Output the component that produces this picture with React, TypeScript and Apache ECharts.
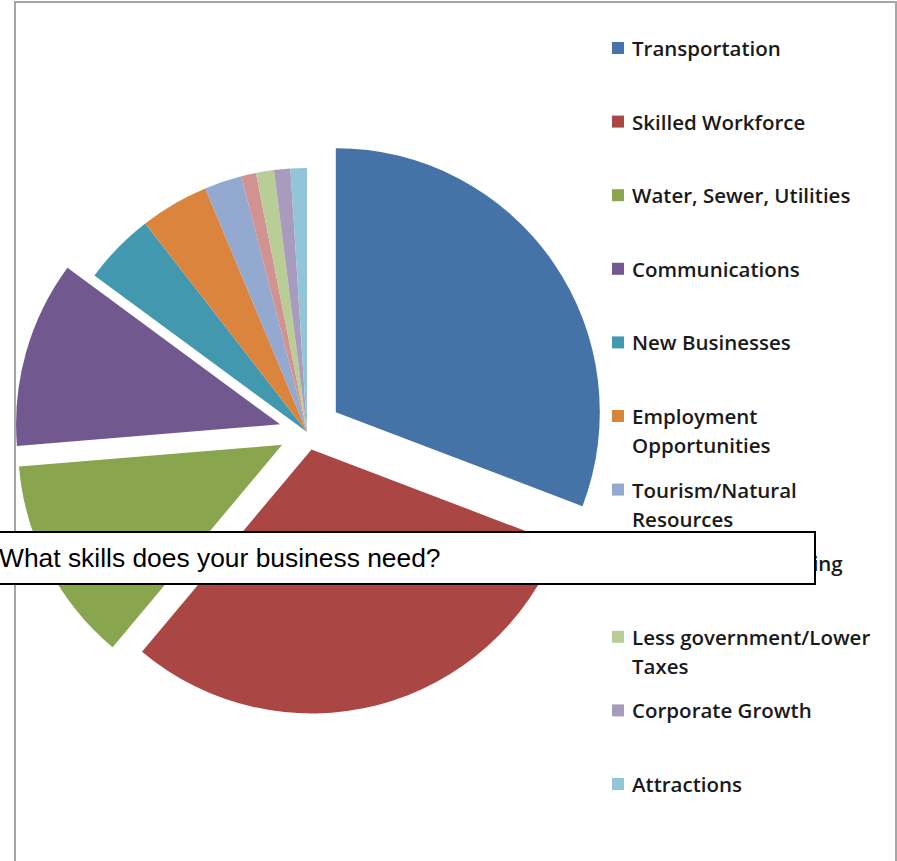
import React, { useEffect, useRef } from "react";
import * as echarts from "echarts";

const categories = [
  "Transportation",
  "Skilled Workforce",
  "Water, Sewer, Utilities",
  "Communications",
  "New Businesses",
  "Employment Opportunities",
  "Tourism/Natural Resources",
  "Retail/Manufacturing",
  "Less government/Lower Taxes",
  "Corporate Growth",
  "Attractions",
];
const legendLabels = [
  "Transportation",
  "Skilled Workforce",
  "Water, Sewer, Utilities",
  "Communications",
  "New Businesses",
  "Employment\nOpportunities",
  "Tourism/Natural\nResources",
  "Retail/Manufacturing",
  "Less government/Lower\nTaxes",
  "Corporate Growth",
  "Attractions",
];
const values = [30.8, 30.3, 12.6, 11.4, 4.4, 4.2, 2.3, 0.9, 1.1, 1.0, 1.0];
const titleText = "What skills does your business need?";

const colors = [
  "#4572A7",
  "#AA4643",
  "#89A54E",
  "#71588F",
  "#4198AF",
  "#DB843D",
  "#93A9CF",
  "#D19392",
  "#B9CD96",
  "#A99BBD",
  "#92C5D7",
];
const explodeOffsets = [35, 18, 28, 28, 0, 0, 0, 0, 0, 0, 0];

export default function App() {
  const ref = useRef<HTMLDivElement>(null);
  useEffect(() => {
    document.body.style.margin = "0";
    const chart = echarts.init(ref.current!, null, { renderer: "svg" });
    const center = [307, 432];
    const radius = 264;
    const transparent = "rgba(0,0,0,0)";

    const baseSeries = {
      type: "pie",
      center,
      radius,
      startAngle: 90,
      clockwise: true,
      silent: true,
      label: { show: false },
      labelLine: { show: false },
      emphasis: { disabled: true },
      itemStyle: { borderWidth: 0 },
      data: categories.map((name, i) => ({
        name,
        value: values[i],
        itemStyle: { color: explodeOffsets[i] ? transparent : colors[i] },
      })),
    };
    const explodedSeries = explodeOffsets
      .map((off, k) => ({ off, k }))
      .filter((o) => o.off > 0)
      .map(({ off, k }) => ({
        type: "pie",
        center,
        radius,
        startAngle: 90,
        clockwise: true,
        silent: true,
        selectedMode: "single",
        selectedOffset: off,
        label: { show: false },
        labelLine: { show: false },
        emphasis: { disabled: true },
        select: { itemStyle: { borderWidth: 0, color: colors[k] } },
        itemStyle: { borderWidth: 0 },
        data: categories.map((name, i) => ({
          name,
          value: values[i],
          selected: i === k,
          itemStyle: { color: i === k ? colors[k] : transparent },
        })),
      }));

    const lineH = 29;
    const legends = categories.map((name, i) => {
      const twoLine = legendLabels[i].includes("\n");
      const centerY = 49 + i * 73.6;
      return {
        orient: "vertical",
        left: 612,
        top: centerY - (twoLine ? 15.5 + lineH : 15.5),
        padding: 0,
        itemWidth: 12,
        itemHeight: 12,
        icon: "rect",
        selectedMode: false,
        data: [{ name, itemStyle: { color: colors[i] } }],
        // a leading empty line keeps the first label line level with the marker
        formatter: () => (twoLine ? "\n" + legendLabels[i] : legendLabels[i]),
        textStyle: {
          fontFamily: "Open Sans",
          fontWeight: 600,
          fontSize: 20.5,
          lineHeight: lineH,
          color: "#1a1a1a",
          padding: [0, 0, 0, 3],
        },
      };
    });

    chart.setOption({
      animation: false,
      backgroundColor: "#ffffff",
      legend: legends,
      series: [baseSeries, ...explodedSeries],
      graphic: [
        {
          type: "rect",
          z: 0,
          silent: true,
          shape: { x: 15, y: 2, width: 881, height: 900 },
          style: { fill: "none", stroke: "#a6a6a6", lineWidth: 2 },
        },
        {
          type: "rect",
          z: 100,
          silent: true,
          shape: { x: -10, y: 532, width: 825, height: 52 },
          style: { fill: "#ffffff", stroke: "#000000", lineWidth: 2 },
        },
        {
          type: "text",
          z: 101,
          silent: true,
          x: -1,
          y: 558,
          style: {
            text: titleText,
            fill: "#000000",
            font: "26.4px 'Liberation Sans', Arial, sans-serif",
            verticalAlign: "middle",
            align: "left",
          },
        },
      ],
    });
    return () => chart.dispose();
  }, []);
  return <div ref={ref} style={{ width: 897, height: 861 }} />;
}
